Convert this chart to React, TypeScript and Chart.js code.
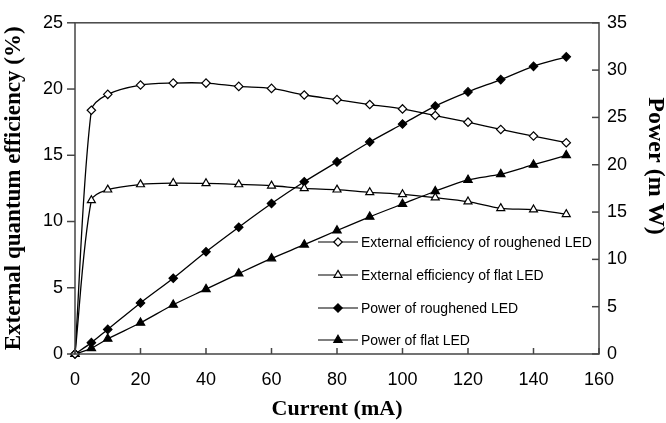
import React, { useEffect, useRef } from "react";
import { Chart, registerables } from "chart.js";

Chart.register(...registerables);

const currents = [0, 5, 10, 20, 30, 40, 50, 60, 70, 80, 90, 100, 110, 120, 130, 140, 150];
const effRoughened = [0, 18.4, 19.6, 20.3, 20.45, 20.45, 20.2, 20.05, 19.55, 19.2, 18.83, 18.5, 18.0, 17.5, 16.95, 16.45, 15.95];
const effFlat = [0, 11.6, 12.4, 12.8, 12.9, 12.88, 12.8, 12.7, 12.5, 12.4, 12.2, 12.05, 11.8, 11.5, 11.0, 10.9, 10.55];
const powerRoughened = [0, 1.2, 2.6, 5.4, 8.0, 10.8, 13.4, 15.9, 18.2, 20.3, 22.4, 24.3, 26.2, 27.7, 29.0, 30.4, 31.4];
const powerFlat = [0, 0.6, 1.6, 3.3, 5.2, 6.85, 8.5, 10.1, 11.55, 13.05, 14.5, 15.85, 17.2, 18.4, 19.0, 20.0, 21.0];

const seriesLabels = [
  "External efficiency of roughened LED",
  "External efficiency of flat LED",
  "Power of roughened LED",
  "Power of flat LED",
];
const xTicks = [0, 20, 40, 60, 80, 100, 120, 140, 160];
const leftTicks = [0, 5, 10, 15, 20, 25];
const rightTicks = [0, 5, 10, 15, 20, 25, 30, 35];
const rightTitle = "Power (m W)";

const AXIS = "#454545";
const TICK_FONT = { family: "'Liberation Sans', Arial, sans-serif", size: 18 };
const SERIF = "'Liberation Serif', 'Times New Roman', serif";

function drawMarker(ctx: CanvasRenderingContext2D, style: string, filled: boolean, x: number, y: number, r: number) {
  ctx.beginPath();
  if (style === "rectRot") {
    ctx.moveTo(x, y - r);
    ctx.lineTo(x + r, y);
    ctx.lineTo(x, y + r);
    ctx.lineTo(x - r, y);
  } else {
    const h = r * 1.5;
    const w = r * Math.sqrt(3);
    ctx.moveTo(x, y - r);
    ctx.lineTo(x + w / 2, y - r + h);
    ctx.lineTo(x - w / 2, y - r + h);
  }
  ctx.closePath();
  ctx.fillStyle = filled ? "#000" : "#fff";
  ctx.fill();
  ctx.strokeStyle = "#000";
  ctx.lineWidth = 1.2;
  ctx.stroke();
}

const framePlugin = {
  id: "frameAndTicks",
  afterDraw(chart: any) {
    const { ctx, chartArea } = chart;
    const { left, right, top, bottom } = chartArea;
    ctx.save();
    ctx.strokeStyle = AXIS;
    ctx.lineWidth = 1.5;
    ctx.strokeRect(left, top, right - left, bottom - top);
    const yl = chart.scales.y;
    yl.ticks.forEach((t: any) => {
      const p = yl.getPixelForValue(t.value);
      ctx.beginPath();
      ctx.moveTo(left - 8, p);
      ctx.lineTo(left, p);
      ctx.stroke();
    });
    const yr = chart.scales.y1;
    yr.ticks.forEach((t: any) => {
      const p = yr.getPixelForValue(t.value);
      ctx.beginPath();
      ctx.moveTo(right - 7, p);
      ctx.lineTo(right, p);
      ctx.stroke();
    });
    const xs = chart.scales.x;
    xs.ticks.forEach((t: any) => {
      const p = xs.getPixelForValue(t.value);
      ctx.beginPath();
      ctx.moveTo(p, bottom - 6);
      ctx.lineTo(p, bottom);
      ctx.stroke();
    });
    // right axis title
    ctx.translate(655, 166);
    ctx.rotate(Math.PI / 2);
    ctx.fillStyle = "#000";
    ctx.font = `bold 24px ${SERIF}`;
    ctx.textAlign = "center";
    ctx.textBaseline = "middle";
    ctx.fillText(rightTitle, 0, 0);
    ctx.restore();
  },
};

const legendPlugin = {
  id: "insideLegend",
  afterDatasetsDraw(chart: any) {
    const { ctx } = chart;
    const rows = [242, 275, 308, 340];
    ctx.save();
    chart.data.datasets.forEach((ds: any, i: number) => {
      const y = rows[i];
      ctx.strokeStyle = "#000";
      ctx.lineWidth = 1.2;
      ctx.beginPath();
      ctx.moveTo(318, y);
      ctx.lineTo(358, y);
      ctx.stroke();
      drawMarker(ctx, ds.pointStyle, ds.pointBackgroundColor === "#000", 338, y, ds.pointRadius);
      ctx.fillStyle = "#000";
      ctx.font = "14px 'Liberation Sans', Arial, sans-serif";
      ctx.textAlign = "left";
      ctx.textBaseline = "middle";
      ctx.fillText(ds.label, 361, y + 1);
    });
    ctx.restore();
  },
};

export default function App() {
  const ref = useRef<HTMLCanvasElement>(null);
  useEffect(() => {
    if (!ref.current) return;
    const mk = (label: string, data: number[], style: string, filled: boolean, axis: string, r: number) => ({
      label,
      data: currents.map((x, i) => ({ x, y: data[i] })),
      yAxisID: axis,
      borderColor: "#000",
      borderWidth: 1.3,
      backgroundColor: filled ? "#000" : "#fff",
      pointStyle: style,
      pointRadius: r,
      pointBackgroundColor: filled ? "#000" : "#fff",
      pointBorderColor: "#000",
      pointBorderWidth: 1.2,
      tension: 0.3,
      clip: false as const,
      fill: false,
    });
    const chart = new Chart(ref.current, {
      type: "line",
      data: {
        datasets: [
          mk(seriesLabels[0], effRoughened, "rectRot", false, "y", 4.2),
          mk(seriesLabels[1], effFlat, "triangle", false, "y", 4.6),
          mk(seriesLabels[2], powerRoughened, "rectRot", true, "y1", 4.2),
          mk(seriesLabels[3], powerFlat, "triangle", true, "y1", 4.8),
        ] as any,
      },
      options: {
        animation: false,
        responsive: false,
        layout: { padding: { top: 18, left: 0, right: 0, bottom: 0 } },
        plugins: { legend: { display: false }, tooltip: { enabled: false } },
        scales: {
          x: {
            type: "linear",
            min: 0,
            max: 160,
            afterBuildTicks: (s: any) => { s.ticks = xTicks.map((v) => ({ value: v })); },
            afterFit: (s: any) => { s.height = 69; },
            grid: { display: false, drawTicks: false },
            border: { display: false },
            ticks: { color: "#000", font: TICK_FONT, padding: 15, maxRotation: 0 },
            title: { display: true, text: "Current (mA)", color: "#000", font: { family: SERIF, size: 22, weight: "bold" }, padding: { top: 8, bottom: 0 } },
          },
          y: {
            type: "linear",
            position: "left",
            min: 0,
            max: 25,
            afterBuildTicks: (s: any) => { s.ticks = leftTicks.map((v) => ({ value: v })); },
            afterFit: (s: any) => { s.width = 75; },
            grid: { display: false, drawTicks: false },
            border: { display: false },
            ticks: { color: "#000", font: TICK_FONT, padding: 12 },
            title: { display: true, text: "External quantum efficiency (%)", color: "#000", font: { family: SERIF, size: 23, weight: "bold" }, padding: { top: 0, bottom: 0 } },
          },
          y1: {
            type: "linear",
            position: "right",
            min: 0,
            max: 35,
            afterBuildTicks: (s: any) => { s.ticks = rightTicks.map((v) => ({ value: v })); },
            afterFit: (s: any) => { s.width = 67; },
            grid: { display: false, drawTicks: false },
            border: { display: false },
            ticks: { color: "#000", font: TICK_FONT, padding: 8 },
            title: { display: false },
          },
        },
      } as any,
      plugins: [framePlugin, legendPlugin],
    });
    return () => chart.destroy();
  }, []);
  return (
    <div style={{ position: "absolute", left: 0, top: 0, width: 666, height: 423, background: "#fff" }}>
      <canvas ref={ref} width={666} height={423} style={{ display: "block" }} />
    </div>
  );
}
